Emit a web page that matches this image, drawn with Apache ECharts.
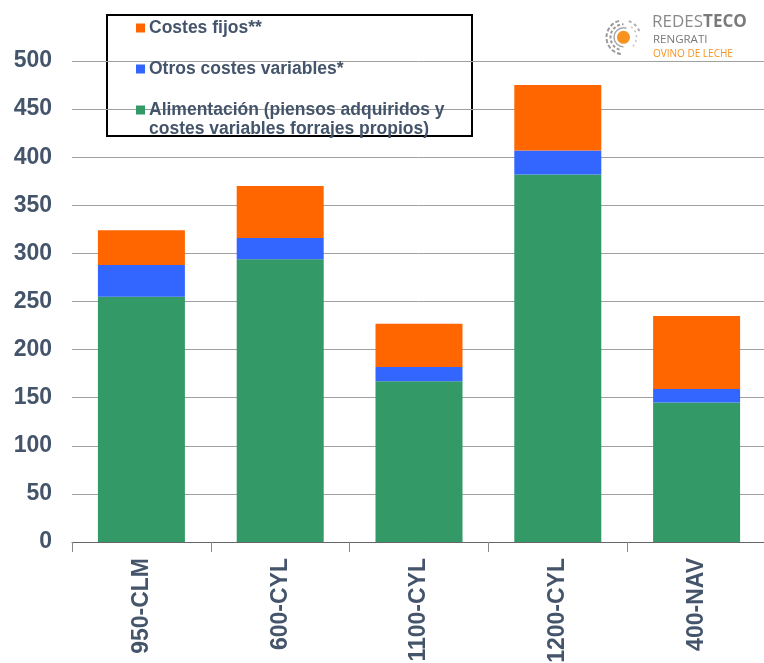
<!DOCTYPE html>
<html>
<head>
<meta charset="utf-8">
<script src="https://cdn.jsdelivr.net/npm/echarts@6/dist/echarts.min.js"></script>
<style>
html,body{margin:0;padding:0;background:#fff;}
#chart{width:764px;height:663px;}
</style>
</head>
<body>
<div id="chart"></div>
<script>
const categories = ['950-CLM', '600-CYL', '1100-CYL', '1200-CYL', '400-NAV'];
const alimentacion = [255, 294, 167, 382, 145];
const otrosVariables = [33, 22, 15, 25, 14];
const costesFijos = [36, 54, 45, 68, 76];
const yTicks = [0, 50, 100, 150, 200, 250, 300, 350, 400, 450, 500];

const seriesNames = ['Costes fijos**', 'Otros costes variables*', 'Alimentación (piensos adquiridos y costes variables forrajes propios)'];
const textColor = '#44546A';
const font = '"Liberation Sans", Arial, sans-serif';

const chart = echarts.init(document.getElementById('chart'), null, {renderer: 'canvas'});

const option = {
  animation: false,
  backgroundColor: '#fff',
  grid: {left: 72, right: -2, top: 61, bottom: 121, containLabel: false, outerBoundsMode: 'none'},
  legend: {
    data: [seriesNames[0], seriesNames[1], seriesNames[2]],
    orient: 'vertical',
    left: 136,
    top: 19,
    padding: 0,
    itemWidth: 9,
    itemHeight: 9,
    itemGap: 23,
    icon: 'rect',
    selectedMode: false,
    formatter: function (n) {
      if (n === seriesNames[2]) return 'Alimentación (piensos adquiridos y';
      return n;
    },
    textStyle: {fontFamily: font, fontSize: 17.5, fontWeight: 'bold', color: textColor, padding: [0, 0, 0, -1]}
  },
  xAxis: {
    type: 'category',
    data: categories,
    axisLine: {show: true, lineStyle: {color: '#666', width: 1}},
    axisTick: {show: true, length: 10, lineStyle: {color: '#888'}},
    axisLabel: {rotate: 90, margin: 16, fontFamily: font, fontSize: 23, fontWeight: 'bold', color: textColor}
  },
  yAxis: {
    type: 'value',
    min: 0,
    max: 500,
    interval: 50,
    axisLine: {show: false},
    axisTick: {show: false},
    splitLine: {show: true, lineStyle: {color: '#a0a0a0', width: 1}},
    axisLabel: {
      margin: 20, fontFamily: font, fontSize: 23, fontWeight: 'bold', color: textColor,
      formatter: function (v) { return yTicks.indexOf(v) >= 0 ? String(v) : ''; }
    }
  },
  series: [
    {name: seriesNames[2], type: 'bar', stack: 'c', data: alimentacion, barWidth: 87, itemStyle: {color: '#339966'}},
    {name: seriesNames[1], type: 'bar', stack: 'c', data: otrosVariables, barWidth: 87, itemStyle: {color: '#3366FF'}},
    {name: seriesNames[0], type: 'bar', stack: 'c', data: costesFijos, barWidth: 87, itemStyle: {color: '#FF6600'}}
  ],
  graphic: [
    {type: 'rect', shape: {x: 107, y: 15, width: 365, height: 121}, style: {fill: '#fff', stroke: '#000', lineWidth: 2}, z: -1, zlevel: 0},
    {type: 'text', left: 149, top: 120, style: {text: 'costes variables forrajes propios)', font: 'bold 17.5px ' + font, fill: textColor}},
    // logo
    {type: 'group', left: 604, top: 18, children: [
      {type: 'arc', shape: {cx: 18, cy: 18, r: 17, startAngle: Math.PI * 0.55, endAngle: Math.PI * 1.45}, style: {stroke: '#9a9a9a', lineWidth: 2, fill: null, lineDash: [4, 2]}},
      {type: 'arc', shape: {cx: 18, cy: 18, r: 17, startAngle: Math.PI * 1.6, endAngle: Math.PI * 1.9}, style: {stroke: '#b0b0b0', lineWidth: 2, fill: null, lineDash: [3, 3]}},
      {type: 'arc', shape: {cx: 18, cy: 18, r: 13, startAngle: Math.PI * 0.6, endAngle: Math.PI * 1.5}, style: {stroke: '#9a9a9a', lineWidth: 2, fill: null, lineDash: [3, 2]}},
      {type: 'arc', shape: {cx: 18, cy: 18, r: 13, startAngle: Math.PI * 1.7, endAngle: Math.PI * 2.3}, style: {stroke: '#c0c0c0', lineWidth: 1.5, fill: null, lineDash: [2, 3]}},
      {type: 'arc', shape: {cx: 18, cy: 18, r: 9.5, startAngle: Math.PI * 0.5, endAngle: Math.PI * 1.6}, style: {stroke: '#a8a8a8', lineWidth: 1.5, fill: null}},
      {type: 'circle', shape: {cx: 18, cy: 18, r: 6.5}, style: {fill: '#F7931E'}}
    ]},
    {type: 'text', left: 652, top: 14, style: {
      text: '{a|REDES}{b|TECO}',
      rich: {
        a: {fontFamily: '"Open Sans", sans-serif', fontSize: 17, fontWeight: 'normal', fill: '#8a8a8a', color: '#8a8a8a'},
        b: {fontFamily: '"Open Sans", sans-serif', fontSize: 17, fontWeight: 'bold', fill: '#7a7a7a', color: '#7a7a7a'}
      }
    }},
    {type: 'text', left: 653, top: 34, style: {text: 'RENGRATI', font: '11.5px "Open Sans", sans-serif', fill: '#7a7a7a'}},
    {type: 'text', left: 653, top: 49, style: {text: 'OVINO DE LECHE', font: '10px "Open Sans", sans-serif', fill: '#F7931E'}}
  ]
};
chart.setOption(option);
</script>
</body>
</html>
